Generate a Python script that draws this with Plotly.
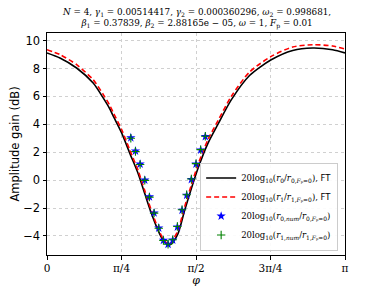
import numpy as np
import plotly.graph_objects as go

# ---- data ----
# FT curves: phi in units of pi, gain in dB
phi_ft = [0.0, 0.0435, 0.0994, 0.155, 0.1885, 0.211, 0.222, 0.250, 0.278, 0.3057,
          0.328, 0.3505, 0.3726, 0.388, 0.4007, 0.4084, 0.418, 0.4396, 0.462, 0.4844,
          0.5065, 0.540, 0.5735, 0.6183, 0.6796, 0.7523, 0.8246, 0.8915, 0.9585, 1.0]
gain_r0_ft = [9.12, 8.76, 8.04, 6.96, 5.9, 5.1, 4.6, 3.4, 1.92, 0.48,
              -0.96, -2.4, -3.6, -4.25, -4.55, -4.65, -4.55, -3.84, -2.16, -0.6,
              0.84, 2.64, 4.0, 5.75, 7.5, 8.63, 9.3, 9.47, 9.35, 9.12]
gain_r1_ft = [9.35, 9.0, 8.28, 7.2, 6.15, 5.35, 4.85, 3.65, 2.15, 0.7,
              -0.75, -2.2, -3.45, -4.15, -4.5, -4.62, -4.45, -3.6, -1.9, -0.35,
              1.1, 2.9, 4.25, 6.0, 7.75, 8.87, 9.55, 9.71, 9.62, 9.4]

# numerical points: phi = k*pi/64
k_num = list(range(18, 35))
gain_r0_num = [3.04, 2.09, 1.15, 0.0, -1.2, -2.35, -3.43, -4.32, -4.6,
               -4.3, -3.36, -2.16, -1.08, 0.05, 1.15, 2.16, 3.12]
gain_r1_num = [3.0, 2.05, 1.12, -0.02, -1.22, -2.37, -3.45, -4.33, -4.6,
               -4.28, -3.33, -2.13, -1.05, 0.08, 1.18, 2.19, 3.15]

xtick_vals = [0, 0.25, 0.5, 0.75, 1.0]
xtick_text = ["0", "π/4", "π/2", "3π/4", "π"]
ytick_vals = [-4, -2, 0, 2, 4, 6, 8, 10]
ytick_text = ["−4", "−2", "0", "2", "4", "6", "8", "10"]

pi = np.pi
x_ft = [p * pi for p in phi_ft]
x_num = [k * pi / 64 for k in k_num]

serif = "DejaVu Serif"
sans = "DejaVu Sans"

FT = "<span style='font-family:DejaVu Sans'>FT</span>"
fig = go.Figure()
fig.add_trace(go.Scatter(
    x=x_ft, y=gain_r0_ft, mode="lines",
    line=dict(color="black", width=1.6, shape="spline", smoothing=0.7),
    name="20log<sub>10</sub>(<i>r</i><sub>0</sub>/<i>r</i><sub>0,<i>F</i>ₚ=0</sub>), " + FT))
fig.add_trace(go.Scatter(
    x=x_ft, y=gain_r1_ft, mode="lines",
    line=dict(color="#ff0000", width=1.6, dash="5px,3px", shape="spline", smoothing=0.7),
    name="20log<sub>10</sub>(<i>r</i><sub>1</sub>/<i>r</i><sub>1,<i>F</i>ₚ=0</sub>), " + FT))
fig.add_trace(go.Scatter(
    x=x_num, y=gain_r0_num, mode="markers",
    marker=dict(symbol="star", color="#0000ff", size=7, line=dict(width=0)),
    name="20log<sub>10</sub>(<i>r</i><sub>0,<i>num</i></sub>/<i>r</i><sub>0,<i>F</i>ₚ=0</sub>)"))
fig.add_trace(go.Scatter(
    x=x_num, y=gain_r1_num, mode="markers",
    marker=dict(symbol="cross-thin", color="#008000", size=6, line=dict(width=1.1, color="#008000")),
    name="20log<sub>10</sub>(<i>r</i><sub>1,<i>num</i></sub>/<i>r</i><sub>1,<i>F</i>ₚ=0</sub>)"))

title = ("<i>N</i> = 4, <i>γ</i><sub>1</sub> = 0.00514417, <i>γ</i><sub>2</sub> = 0.000360296, "
         "<i>ω</i><sub>2</sub> = 0.998681,<br>"
         "<i>β</i><sub>1</sub> = 0.37839, <i>β</i><sub>2</sub> = 2.88165e − 05, <i>ω</i> = 1, "
         "<i>F</i><sub>p</sub> = 0.01")

fig.add_annotation(text=title, xref="paper", yref="paper", x=0.5, y=1, xanchor="center",
                   yanchor="bottom", yshift=1, showarrow=False, align="center",
                   font=dict(family=serif, size=8.8, color="black"))

# page body adds an 8px offset, so the figure is 8px smaller and margins shifted
fig.update_layout(
    width=376, height=280,
    margin=dict(l=39, r=39, t=25, b=33),
    paper_bgcolor="white", plot_bgcolor="white",
    showlegend=True,
    legend=dict(x=0.977, y=0.02, xanchor="right", yanchor="bottom",
                bgcolor="rgba(255,255,255,0.9)", bordercolor="#cccccc", borderwidth=1,
                font=dict(family=serif, size=8.5, color="black"),
                itemwidth=30, tracegroupgap=0),
    xaxis=dict(range=[0, pi], tickmode="array", tickvals=[v * pi for v in xtick_vals],
               ticktext=xtick_text, ticks="outside", ticklen=3.5, tickcolor="black",
               tickfont=dict(family=serif, size=10.5, color="black"),
               showline=True, linecolor="black", linewidth=1, mirror=True,
               showgrid=True, gridcolor="#d0d0d0", griddash="dot", gridwidth=0.8,
               zeroline=False, automargin=False,
               title=dict(text="<i>φ</i>", font=dict(family=serif, size=11, color="black"), standoff=3)),
    yaxis=dict(range=[-5.37, 10.55], tickmode="array", tickvals=ytick_vals, ticktext=ytick_text,
               ticks="outside", ticklen=3.5, tickcolor="black",
               tickfont=dict(family=sans, size=11.5, color="black"),
               showline=True, linecolor="black", linewidth=1, mirror=True,
               showgrid=True, gridcolor="#d0d0d0", griddash="dot", gridwidth=0.8,
               zeroline=False, automargin=False,
               title=dict(text="Amplitude gain (dB)", font=dict(family=sans, size=11.5, color="black"),
                          standoff=5)),
)

fig.write_html("out.html")
